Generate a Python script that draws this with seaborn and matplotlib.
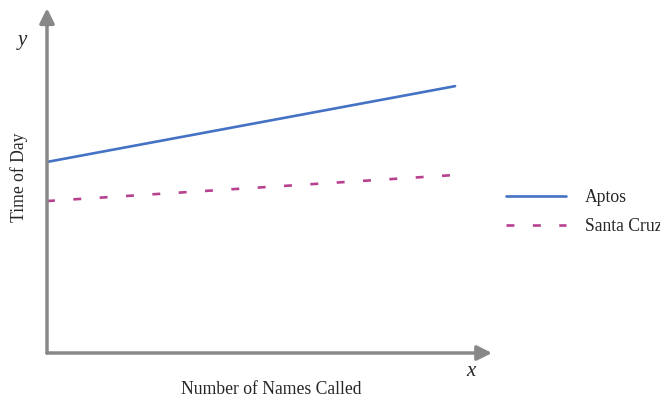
import matplotlib
matplotlib.use("Agg")
import matplotlib.pyplot as plt
import pandas as pd
import seaborn as sns

# two straight lines (axes scaled 0..10 both ways)
series = ["Aptos", "Santa Cruz"]
x_values = [0.0, 9.17]
aptos_y = [5.57, 7.78]
santa_cruz_y = [4.43, 5.19]

x_label = "Number of Names Called"
y_label = "Time of Day"

AXIS_GRAY = "#888888"
COLORS = {"Aptos": "#4472C4", "Santa Cruz": "#B8418F"}


def build_frame() -> pd.DataFrame:
    rows = []
    for name, ys in zip(series, [aptos_y, santa_cruz_y]):
        for x, y in zip(x_values, ys):
            rows.append({"x": x, "y": y, "town": name})
    return pd.DataFrame(rows)


def main() -> None:
    sns.set_theme(style="white")
    plt.rcParams["font.family"] = ["Liberation Serif", "DejaVu Serif"]

    df = build_frame()

    fig = plt.figure(figsize=(6.6, 4.03), dpi=100)
    ax = fig.add_axes([47 / 660, 50 / 403, 445 / 660, 343 / 403])

    sns.lineplot(
        data=df,
        x="x",
        y="y",
        hue="town",
        style="town",
        palette=COLORS,
        dashes={"Aptos": "", "Santa Cruz": (3.0, 7.0)},
        linewidth=1.9,
        ax=ax,
    )

    ax.set_xlim(0, 10)
    ax.set_ylim(0, 10)
    ax.set_xticks([])
    ax.set_yticks([])
    ax.set_xlabel("")
    ax.set_ylabel("")
    for spine in ax.spines.values():
        spine.set_visible(False)

    arrow = dict(arrowstyle="-|>", color=AXIS_GRAY, lw=2.5, mutation_scale=22,
                 shrinkA=0, shrinkB=0)
    ax.annotate("", xy=(1, 0), xytext=(0, 0), xycoords="axes fraction",
                arrowprops=arrow, annotation_clip=False)
    ax.annotate("", xy=(0, 1.005), xytext=(0, 0), xycoords="axes fraction",
                arrowprops=arrow, annotation_clip=False)

    fig.text(271 / 660, 1 - 390 / 403, x_label, ha="center", va="center",
             fontsize=12.7)
    fig.text(19 / 660, 1 - 177 / 403, y_label, ha="center", va="center",
             rotation=90, fontsize=12.7)
    fig.text(22 / 660, 1 - 40 / 403, "y", ha="center", va="center",
             fontsize=15, style="italic")
    fig.text(471 / 660, 1 - 371 / 403, "x", ha="center", va="center",
             fontsize=15, style="italic")

    handles, labels = ax.get_legend_handles_labels()
    ax.legend(
        handles,
        labels,
        loc="center left",
        bbox_to_anchor=(490 / 660, 1 - 212 / 403),
        bbox_transform=fig.transFigure,
        frameon=False,
        fontsize=12.7,
        handlelength=3.4,
        handletextpad=1.1,
        labelspacing=0.65,
    )

    fig.savefig("out.png", dpi=100)
    plt.close(fig)


if __name__ == "__main__":
    main()
